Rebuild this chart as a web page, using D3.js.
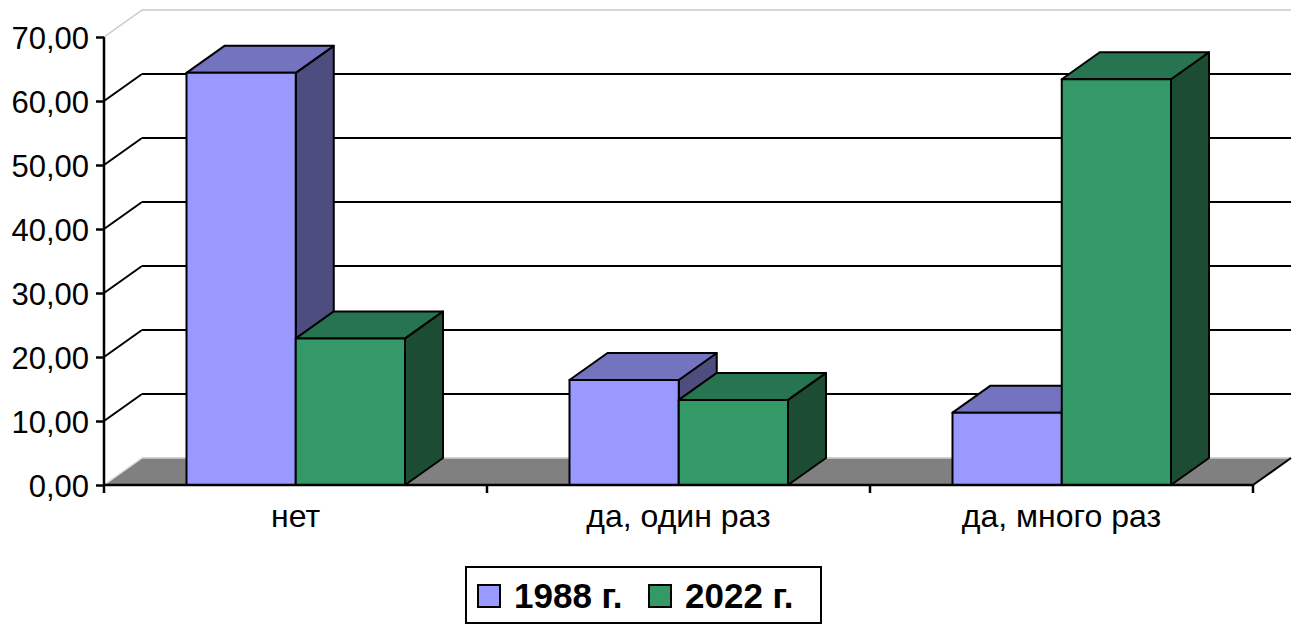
<html>
<head>
<meta charset="utf-8">
<script src="https://d3js.org/d3.v7.min.js"></script>
<style>
body { margin: 0; background: #fff; }
text { font-family: "Liberation Sans", Arial, sans-serif; }
</style>
</head>
<body>
<script>
// data
var categories = ["нет", "да, один раз", "да, много раз"];
var seriesNames = ["1988 г.", "2022 г."];
var values1988 = [64.4, 16.4, 11.3];
var values2022 = [22.9, 13.3, 63.4];
var yTicks = [0, 10, 20, 30, 40, 50, 60, 70];

var w = 1299, h = 624;
var dx = 38, dy = 27; // depth offset of the 3d look

var svg = d3.select("body").append("svg").attr("width", w).attr("height", h);

var x = d3.scaleBand().domain(categories).range([104, 1253]);
var xs = d3.scaleBand().domain(seriesNames).range([82.5, 301]);
var y = d3.scaleLinear().domain([0, 70]).range([485, 37]);

var fmt = function(d){ return d3.format(".2f")(d).replace(".", ","); };

// back wall gridlines
var grid = svg.append("g");
yTicks.forEach(function(t){
	var edge = (t == 0 || t == 70);
	var col = edge ? "#c8c8c8" : "#000";
	grid.append("line")
		.attr("x1", 104).attr("y1", y(t)).attr("x2", 104 + dx).attr("y2", y(t) - dy)
		.attr("stroke", col).attr("stroke-width", edge ? 1.5 : 2);
	grid.append("line")
		.attr("x1", 104 + dx).attr("y1", y(t) - dy).attr("x2", 1253 + dx).attr("y2", y(t) - dy)
		.attr("stroke", col).attr("stroke-width", edge ? 1.5 : 2);
});

// floor
svg.append("path")
	.attr("d", "M104," + y(0) + "L1253," + y(0) + "L" + (1253 + dx) + "," + (y(0) - dy) + "L" + (104 + dx) + "," + (y(0) - dy) + "Z")
	.attr("fill", "#808080");
svg.append("line").attr("x1", 104).attr("y1", y(0)).attr("x2", 104 + dx).attr("y2", y(0) - dy)
	.attr("stroke", "#e0e0e0").attr("stroke-width", 1.5);
svg.append("line").attr("x1", 104 + dx).attr("y1", y(0) - dy).attr("x2", 1253 + dx).attr("y2", y(0) - dy)
	.attr("stroke", "#d0d0d0").attr("stroke-width", 1.5);
svg.append("line").attr("x1", 1253).attr("y1", y(0)).attr("x2", 1253 + dx).attr("y2", y(0) - dy)
	.attr("stroke", "#000").attr("stroke-width", 2);

// bars
var colors = {
	"1988 г.": { front: "#9999ff", top: "#7373bf", side: "#4d4d80" },
	"2022 г.": { front: "#339966", top: "#267550", side: "#1c4d33" }
};
var rows = [];
categories.forEach(function(c, i){
	rows.push({ cat: c, s: seriesNames[0], v: values1988[i] });
	rows.push({ cat: c, s: seriesNames[1], v: values2022[i] });
});

var bars = svg.append("g").selectAll("g").data(rows).enter().append("g")
	.attr("stroke", "#000").attr("stroke-width", 2).attr("stroke-linejoin", "round");

bars.each(function(d){
	var g = d3.select(this);
	var x0 = x(d.cat) + xs(d.s), x1 = x0 + xs.bandwidth();
	var yt = y(d.v), yb = y(0);
	var c = colors[d.s];
	g.append("path")
		.attr("d", "M" + x1 + "," + yb + "L" + (x1 + dx) + "," + (yb - dy) + "L" + (x1 + dx) + "," + (yt - dy) + "L" + x1 + "," + yt + "Z")
		.attr("fill", c.side);
	g.append("path")
		.attr("d", "M" + x0 + "," + yt + "L" + (x0 + dx) + "," + (yt - dy) + "L" + (x1 + dx) + "," + (yt - dy) + "L" + x1 + "," + yt + "Z")
		.attr("fill", c.top);
	g.append("rect")
		.attr("x", x0).attr("y", yt).attr("width", x1 - x0).attr("height", yb - yt)
		.attr("fill", c.front);
});

// axes
var yAxis = d3.axisLeft(y).tickValues(yTicks).tickSize(8).tickFormat(fmt);
var ya = svg.append("g").attr("transform", "translate(104,0)").call(yAxis);
ya.select(".domain").attr("stroke-width", 2.5).attr("d", "M0," + y(70) + "V" + y(0));
ya.selectAll(".tick line").attr("stroke-width", 2.5);
ya.selectAll(".tick text").attr("font-size", 31).attr("font-family", "Liberation Sans, Arial")
	.attr("fill", "#000").attr("x", -15).attr("dy", "0.36em");

var xa = svg.append("g");
xa.append("line").attr("x1", 104).attr("x2", 1253).attr("y1", y(0)).attr("y2", y(0))
	.attr("stroke", "#000").attr("stroke-width", 2.5);
[0, 1, 2, 3].forEach(function(i){
	var xx = i < 3 ? x(categories[i]) : x.range()[1];
	xa.append("line").attr("x1", xx).attr("x2", xx).attr("y1", y(0)).attr("y2", y(0) + 8)
		.attr("stroke", "#000").attr("stroke-width", 2.5);
});
xa.selectAll("text.cat").data(categories).enter().append("text")
	.attr("class", "cat")
	.attr("x", function(d){ return x(d) + x.bandwidth() / 2; })
	.attr("y", 527)
	.attr("text-anchor", "middle")
	.attr("font-size", 32)
	.text(function(d){ return d; });

// legend
var lg = svg.append("g");
lg.append("rect").attr("x", 466).attr("y", 567).attr("width", 355).attr("height", 56)
	.attr("fill", "#fff").attr("stroke", "#000").attr("stroke-width", 2);
var legX = [478, 649];
seriesNames.forEach(function(s, i){
	lg.append("rect").attr("x", legX[i]).attr("y", 585).attr("width", 22).attr("height", 22)
		.attr("fill", colors[s].front).attr("stroke", "#000").attr("stroke-width", 2);
	lg.append("text").attr("x", legX[i] + 36).attr("y", 608)
		.attr("font-size", 35).attr("font-weight", "bold")
		.text(s);
});
</script>
</body>
</html>
